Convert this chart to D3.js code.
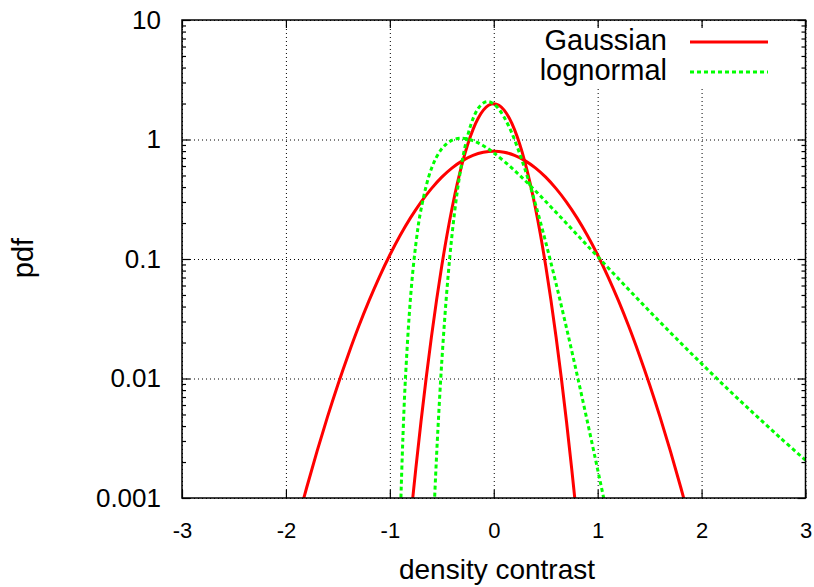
<!DOCTYPE html>
<html>
<head>
<meta charset="utf-8">
<script src="https://cdn.jsdelivr.net/npm/d3@7"></script>
<style>
  body { margin: 0; background: #fff; }
  text { font-family: "Liberation Sans", Arial, sans-serif; fill: #000; }
</style>
</head>
<body>
<script>
// data
var xTicks = [-3, -2, -1, 0, 1, 2, 3];
var xTickLabels = ["-3", "-2", "-1", "0", "1", "2", "3"];
var yTicks = [10, 1, 0.1, 0.01, 0.001];
var yTickLabels = ["10", "1", "0.1", "0.01", "0.001"];
var yMinor = [0.002, 0.003, 0.004, 0.005, 0.006, 0.007, 0.008, 0.009,
              0.02, 0.03, 0.04, 0.05, 0.06, 0.07, 0.08, 0.09,
              0.2, 0.3, 0.4, 0.5, 0.6, 0.7, 0.8, 0.9,
              2, 3, 4, 5, 6, 7, 8, 9];

// wide Gaussian
var gaussWideX = [-1.9, -1.8, -1.7, -1.6, -1.5, -1.4, -1.3, -1.2, -1.1, -1.0,
                  -0.9, -0.8, -0.7, -0.6, -0.5, -0.4, -0.3, -0.2, -0.1, 0,
                  0.1, 0.2, 0.3, 0.4, 0.5, 0.6, 0.7, 0.8, 0.9, 1.0,
                  1.1, 1.2, 1.3, 1.4, 1.5, 1.6, 1.7, 1.8, 1.9];
var gaussWideY = [0.000584, 0.001224, 0.002465, 0.00477, 0.00887, 0.01583, 0.0272, 0.0448, 0.0710, 0.1080,
                  0.1579, 0.2218, 0.2995, 0.388, 0.484, 0.579, 0.666, 0.737, 0.782, 0.798,
                  0.782, 0.737, 0.666, 0.579, 0.484, 0.388, 0.2995, 0.2218, 0.1579, 0.1080,
                  0.0710, 0.0448, 0.0272, 0.01583, 0.00887, 0.00477, 0.002465, 0.001224, 0.000584];

// narrow Gaussian
var gaussNarrowX = [-0.8, -0.75, -0.7, -0.65, -0.6, -0.55, -0.5, -0.45, -0.4, -0.35, -0.3, -0.25,
                    -0.2, -0.15, -0.1, -0.05, 0, 0.05, 0.1, 0.15, 0.2,
                    0.25, 0.3, 0.35, 0.4, 0.45, 0.5, 0.55, 0.6, 0.65, 0.7, 0.75, 0.8];
var gaussNarrowY = [0.000669, 0.001764, 0.004364, 0.01015, 0.02217, 0.0455, 0.0877, 0.1588, 0.270, 0.4316, 0.648, 0.913,
                    1.210, 1.506, 1.760, 1.933, 1.995, 1.933, 1.760, 1.506, 1.210,
                    0.913, 0.648, 0.4316, 0.270, 0.1588, 0.0877, 0.0455, 0.02217, 0.01015, 0.004364, 0.001764, 0.000669];

// wide lognormal
var lognWideX = [-0.895, -0.89, -0.88, -0.87, -0.85, -0.8, -0.75, -0.7, -0.6, -0.5,
                 -0.4, -0.3, -0.2, -0.1, 0, 0.2, 0.4, 0.6, 0.8, 1.0,
                 1.25, 1.5, 1.75, 2.0, 2.25, 2.5, 2.75, 3.0];
var lognWideY = [0.00088, 0.001243, 0.002317, 0.0040, 0.00996, 0.04864, 0.1325, 0.2592, 0.5701, 0.8369,
                 0.9874, 1.0239, 0.9784, 0.8859, 0.7734, 0.5505, 0.3723, 0.2457, 0.1605, 0.1046,
                 0.0615, 0.03648, 0.0219, 0.01331, 0.0082, 0.005116, 0.003234, 0.00207];

// narrow lognormal
var lognNarrowX = [-0.58, -0.56, -0.54, -0.5, -0.45, -0.4, -0.35, -0.3, -0.25, -0.2,
                   -0.15, -0.1, -0.05, 0, 0.05, 0.1, 0.15, 0.2, 0.3, 0.4,
                   0.5, 0.6, 0.7, 0.8, 0.9, 1.0, 1.05, 1.1];
var lognNarrowY = [0.000599, 0.00149, 0.00339, 0.01385, 0.0559, 0.1637, 0.3723, 0.6908, 1.086, 1.489,
                   1.8206, 2.0233, 2.0741, 1.9847, 1.7906, 1.5357, 1.2608, 0.9965, 0.5663, 0.2911,
                   0.1384, 0.06199, 0.02652, 0.01094, 0.004395, 0.001729, 0.001078, 0.00067];

// svg container
var width = 814;
var height = 587;

// plot frame
var frame = { left: 182, top: 20, right: 805.5, bottom: 498 };

var svg = d3.select("body").append("svg")
    .attr("width", width)
    .attr("height", height);

svg.append("rect").attr("width", width).attr("height", height).attr("fill", "#fff");

var xScale = d3.scaleLinear().domain([-3, 3]).range([frame.left, frame.right]);
var yScale = d3.scaleLog().domain([0.001, 10]).range([frame.bottom, frame.top]);

var plotW = frame.right - frame.left;
var plotH = frame.bottom - frame.top;

// grid
var gridX = svg.append("g")
    .attr("transform", `translate(0, ${frame.bottom})`)
    .call(d3.axisBottom(xScale).tickValues(xTicks).tickSize(-plotH).tickSizeOuter(0).tickFormat(""));
var gridY = svg.append("g")
    .attr("transform", `translate(${frame.left}, 0)`)
    .call(d3.axisLeft(yScale).tickValues(yTicks).tickSize(-plotW).tickSizeOuter(0).tickFormat(""));
[gridX, gridY].forEach(function(g) {
  g.select(".domain").remove();
  g.selectAll(".tick line")
      .attr("stroke", "#000")
      .attr("stroke-width", 1)
      .attr("stroke-dasharray", "1,3");
});

// key background hides the grid behind it
svg.append("rect")
    .attr("x", 535).attr("y", 27)
    .attr("width", 262).attr("height", 59)
    .attr("fill", "#fff");

// curves
svg.append("clipPath").attr("id", "plotClip")
  .append("rect")
    .attr("x", frame.left).attr("y", frame.top)
    .attr("width", plotW).attr("height", plotH);

var line = d3.line()
    .x(d => xScale(d[0]))
    .y(d => yScale(d[1]))
    .curve(d3.curveCatmullRom.alpha(0.5));

var curves = [
  { xs: gaussWideX, ys: gaussWideY, color: "#ff0000", dash: null },
  { xs: gaussNarrowX, ys: gaussNarrowY, color: "#ff0000", dash: null },
  { xs: lognWideX, ys: lognWideY, color: "#00ff00", dash: "4,3" },
  { xs: lognNarrowX, ys: lognNarrowY, color: "#00ff00", dash: "4,3" }
];

var curveGroup = svg.append("g").attr("clip-path", "url(#plotClip)");
curves.forEach(function(c) {
  curveGroup.append("path")
      .datum(c.xs.map((v, i) => [v, c.ys[i]]))
      .attr("d", line)
      .attr("fill", "none")
      .attr("stroke", c.color)
      .attr("stroke-width", 3)
      .attr("stroke-dasharray", c.dash);
});

// axes with inward ticks
var axisLeft = svg.append("g")
    .attr("transform", `translate(${frame.left}, 0)`)
    .call(d3.axisLeft(yScale).tickValues(yTicks).tickSize(-8).tickSizeOuter(0).tickPadding(21)
      .tickFormat((d, i) => yTickLabels[i]));
var axisLeftMinor = svg.append("g")
    .attr("transform", `translate(${frame.left}, 0)`)
    .call(d3.axisLeft(yScale).tickValues(yMinor).tickSize(-4).tickSizeOuter(0).tickFormat(""));
var axisRight = svg.append("g")
    .attr("transform", `translate(${frame.right}, 0)`)
    .call(d3.axisRight(yScale).tickValues(yTicks).tickSize(-8).tickSizeOuter(0).tickFormat(""));
var axisRightMinor = svg.append("g")
    .attr("transform", `translate(${frame.right}, 0)`)
    .call(d3.axisRight(yScale).tickValues(yMinor).tickSize(-4).tickSizeOuter(0).tickFormat(""));
var axisBottom = svg.append("g")
    .attr("transform", `translate(0, ${frame.bottom})`)
    .call(d3.axisBottom(xScale).tickValues(xTicks).tickSize(-8).tickSizeOuter(0).tickPadding(24)
      .tickFormat((d, i) => xTickLabels[i]));
var axisTop = svg.append("g")
    .attr("transform", `translate(0, ${frame.top})`)
    .call(d3.axisTop(xScale).tickValues(xTicks).tickSize(-8).tickSizeOuter(0).tickFormat(""));

[axisLeft, axisLeftMinor, axisRight, axisRightMinor, axisBottom, axisTop].forEach(function(g) {
  g.select(".domain").remove();
  g.selectAll(".tick line").attr("stroke", "#000").attr("stroke-width", 1.2);
});
axisLeft.selectAll("text")
    .style("font-family", "'Liberation Sans', Arial, sans-serif")
    .style("font-size", "26px")
    .attr("fill", "#000");
axisBottom.selectAll("text")
    .style("font-family", "'Liberation Sans', Arial, sans-serif")
    .style("font-size", "22px")
    .attr("fill", "#000");

// frame
svg.append("rect")
    .attr("x", frame.left).attr("y", frame.top)
    .attr("width", plotW).attr("height", plotH)
    .attr("fill", "none")
    .attr("stroke", "#000")
    .attr("stroke-width", 1.5);

// axis titles
svg.append("text")
    .attr("x", 497).attr("y", 579)
    .attr("text-anchor", "middle")
    .style("font-size", "28px")
    .text("density contrast");
svg.append("text")
    .attr("transform", "translate(33, 258) rotate(-90)")
    .attr("text-anchor", "middle")
    .style("font-size", "29px")
    .text("pdf");

// key
var keyItems = [
  { label: "Gaussian", color: "#ff0000", dash: null, y: 42 },
  { label: "lognormal", color: "#00ff00", dash: "4,3", y: 72 }
];
keyItems.forEach(function(k) {
  svg.append("text")
      .attr("x", 667).attr("y", k.y + 8)
      .attr("text-anchor", "end")
      .style("font-size", "29px")
      .text(k.label);
  svg.append("line")
      .attr("x1", 690).attr("x2", 768)
      .attr("y1", k.y).attr("y2", k.y)
      .attr("stroke", k.color)
      .attr("stroke-width", 3)
      .attr("stroke-dasharray", k.dash);
});
</script>
</body>
</html>
